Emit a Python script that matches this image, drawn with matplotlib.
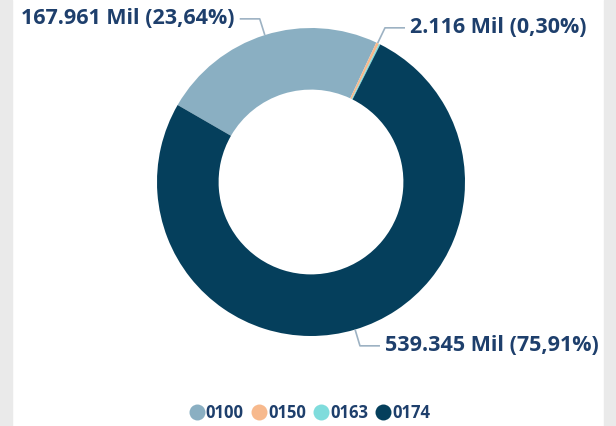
import numpy as np
import matplotlib
matplotlib.use("Agg")
import matplotlib.pyplot as plt
from matplotlib.patches import Rectangle
from matplotlib.lines import Line2D

# data (values in thousands, "Mil")
categories = ["0100", "0150", "0163", "0174"]
values = [167961, 2116, 1085, 539345]
colors = ["#8AAFC2", "#F7B98D", "#7FDCDC", "#053F5C"]
show_label = [True, True, False, True]

text_color = "#1E3F6C"
leader_color = "#9DB2C3"
plt.rcParams["font.family"] = ["Open Sans", "DejaVu Sans"]

fig = plt.figure(figsize=(6.16, 4.26), dpi=100)
fig.patch.set_facecolor("white")
# grey panel edges
fig.patches.append(Rectangle((0, 0), 12 / 616, 1, transform=fig.transFigure, color="#EAEAEA", zorder=0))
fig.patches.append(Rectangle((604 / 616, 0), 12 / 616, 1, transform=fig.transFigure, color="#EAEAEA", zorder=0))

ax = fig.add_axes([0, 0, 1, 1])
cx, cy, r = 311, 244, 154
wedges, _ = ax.pie(values, colors=colors, startangle=150, counterclock=False,
                   radius=r, center=(cx, cy), frame=True,
                   wedgeprops=dict(width=r * 0.4, linewidth=0))
ax.set_xlim(0, 616)
ax.set_ylim(0, 426)
ax.set_aspect("equal")
ax.axis("off")

total = sum(values)
for w, v, show in zip(wedges, values, show_label):
    if not show:
        continue
    ang = np.deg2rad((w.theta1 + w.theta2) / 2)
    x0, y0 = cx + r * np.cos(ang), cy + r * np.sin(ang)
    x1, y1 = cx + (r + 17) * np.cos(ang), cy + (r + 17) * np.sin(ang)
    side = 1 if np.cos(ang) >= 0 else -1
    x2 = x1 + side * 20
    ax.plot([x0, x1, x2], [y0, y1, y1], color=leader_color, lw=1.2, solid_capstyle="butt")
    pct = f"{v / total * 100:.2f}".replace(".", ",")
    val = f"{v:,}".replace(",", ".")
    ax.text(x2 + side * 5, y1, f"{val} Mil ({pct}%)", ha="left" if side > 0 else "right",
            va="center", fontsize=15.5, fontweight="bold", color=text_color)

handles = [Line2D([], [], marker="o", linestyle="", markersize=11.5, markerfacecolor=c,
                  markeredgewidth=0) for c in colors]
leg = ax.legend(handles, categories, loc="center", bbox_to_anchor=(0.5, 13 / 426),
                bbox_transform=fig.transFigure, ncol=4, frameon=False,
                handletextpad=-0.1, columnspacing=0.25, handlelength=1.3,
                prop=dict(size=12, weight="bold"))
for t in leg.get_texts():
    t.set_color(text_color)

fig.savefig("out.png", dpi=100)
